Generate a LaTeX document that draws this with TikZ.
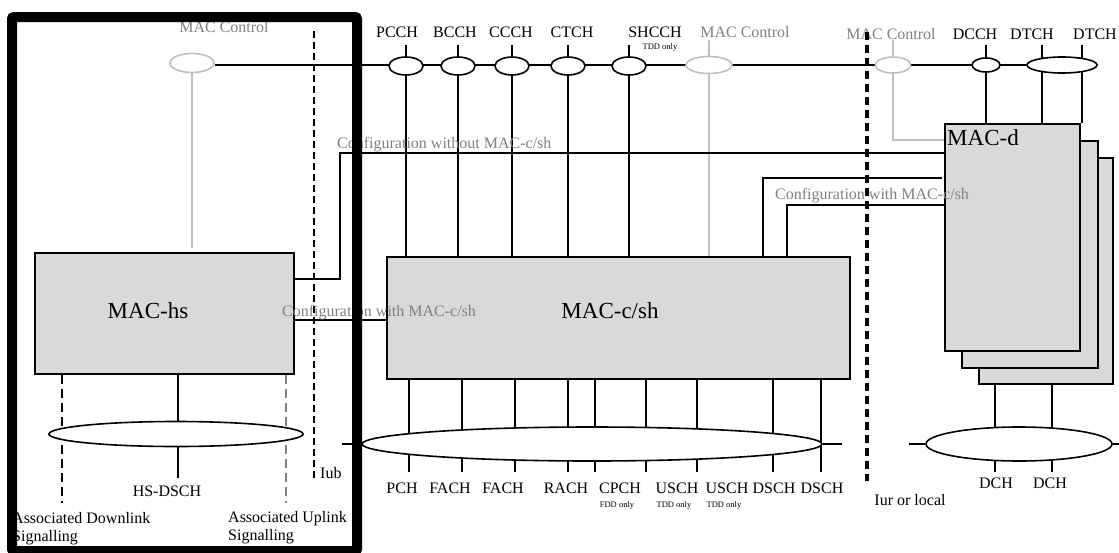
\documentclass[tikz,border=0pt]{standalone}
\usepackage{fontspec}
\setmainfont{Liberation Serif}
\usepackage{xcolor}
\definecolor{boxFill}{HTML}{D9D9D9}
\definecolor{ctrlGray}{HTML}{BFBFBF}
\definecolor{noteGray}{HTML}{808080}
\usepackage{tikz}
\usetikzlibrary{shapes.geometric,backgrounds,calc}

\begin{document}
\begin{tikzpicture}[
  x=1pt, y=-1pt,
  font=\fontsize{16}{18}\selectfont,
  entity/.style={draw,fill=boxFill,line width=1.8pt,inner sep=0pt,anchor=north west},
  bigname/.style={anchor=base,inner sep=0pt,font=\fontsize{23}{25}\selectfont},
  chan/.style={ellipse,draw,fill=white,line width=1.6pt,inner sep=0pt},
  ctrlring/.style={chan,draw=ctrlGray},
  tag/.style={anchor=base,inner sep=0pt},
  note/.style={tag,noteGray},
  subtag/.style={tag,font=\fontsize{8.5}{9}\selectfont},
  wire/.style={line width=1.8pt},
  ctrl/.style={ctrlGray,line width=1.8pt},
  iface/.style={line width=1.3pt,dash pattern=on 7pt off 4pt},
  iurline/.style={line width=4pt,dash pattern=on 8pt off 5pt},
  assoc/.style={line width=1.8pt,dash pattern=on 9pt off 5pt}
]
\useasboundingbox (0,0) rectangle (1119,552);

% entities
\node[entity,minimum width=259pt,minimum height=121pt] (mhs) at (34,252) {};
\node[entity,minimum width=463pt,minimum height=122pt] (csh) at (386,256) {};
\node[entity,minimum width=134pt,minimum height=226pt] (macd3) at (978,157) {};
\node[entity,minimum width=136pt,minimum height=227pt] (macd2) at (961,140) {};
\node[entity,minimum width=135pt,minimum height=227pt] (macd1) at (944,123) {};
\node[bigname] (mhsname) at (148,318) {MAC-hs};
\node[bigname] (cshname) at (610,318) {MAC-c/sh};
\node[bigname,anchor=base west] (macdname) at (947,145) {MAC-d};

% logical channels
\node[note] (hsctltag) at (224,32) {MAC Control};
\node[tag] (pcch) at (397,37) {PCCH};
\node[tag] (bcch) at (455,37) {BCCH};
\node[tag] (ccch) at (511,37) {CCCH};
\node[tag] (ctch) at (572,37) {CTCH};
\node[tag] (shcch) at (655,37) {SHCCH};
\node[subtag] (shcchnote) at (660,49) {TDD only};
\node[note] (cshctltag) at (745,37) {MAC Control};
\node[note] (dctltag) at (891,39) {MAC Control};
\node[tag] (dcch) at (975,39) {DCCH};
\node[tag] (dtcha) at (1032,39) {DTCH};
\node[tag] (dtchb) at (1095,39) {DTCH};

\node[ctrlring,minimum width=44pt,minimum height=19pt] (hsctl) at (192,63) {};
\node[chan,minimum width=34pt,minimum height=18pt] (pcchE) at (406,66) {};
\node[chan,minimum width=34pt,minimum height=18pt] (bcchE) at (458,66) {};
\node[chan,minimum width=34pt,minimum height=18pt] (ccchE) at (512,66) {};
\node[chan,minimum width=34pt,minimum height=18pt] (ctchE) at (568,66) {};
\node[chan,minimum width=34pt,minimum height=18pt] (shcchE) at (629,66) {};
\node[ctrlring,minimum width=46pt,minimum height=17pt] (cshctl) at (709,65) {};
\node[ctrlring,minimum width=35pt,minimum height=16pt] (dctl) at (893,65) {};
\node[chan,minimum width=28pt,minimum height=14pt] (dcchE) at (986,65) {};
\node[chan,minimum width=70pt,minimum height=16pt] (dtchE) at (1062,65) {};

% transport channels
\node[chan,minimum width=254pt,minimum height=25pt] (hsbus) at (176,434) {};
\node[chan,minimum width=460pt,minimum height=34pt] (cshbus) at (592,444) {};
\node[chan,minimum width=186pt,minimum height=34pt] (dbus) at (1019,444) {};

\node[tag] (hsdsch) at (167,496) {HS-DSCH};
\node[tag,anchor=base west,align=left] (assocdl) at (12,541) {Associated Downlink\\Signalling};
\node[tag,anchor=base west,align=left] (assocul) at (228,540) {Associated Uplink\\Signalling};
\node[tag,anchor=base west] (iub) at (320,478) {Iub};
\node[tag] (pch) at (402,493) {PCH};
\node[tag] (facha) at (450,493) {FACH};
\node[tag] (fachb) at (503,493) {FACH};
\node[tag] (rach) at (566,493) {RACH};
\node[tag] (cpch) at (620,493) {CPCH};
\node[tag] (uscha) at (677,493) {USCH};
\node[tag] (uschb) at (727,493) {USCH};
\node[tag] (dscha) at (774,493) {DSCH};
\node[tag] (dschb) at (822,493) {DSCH};
\node[subtag] (cpchnote) at (617,507) {FDD only};
\node[subtag] (uschanote) at (674,507) {TDD only};
\node[subtag] (uschbnote) at (724,507) {TDD only};
\node[tag] (iur) at (910,505) {Iur or local};
\node[tag] (dcha) at (996,488) {DCH};
\node[tag] (dchb) at (1050,488) {DCH};

% configuration labels
\node[note,anchor=base west] (cfgwo) at (337,148) {Configuration without MAC-c/sh};
\node[note,anchor=base west] (cfgl) at (282,316) {Configuration with MAC-c/sh};
\node[note,anchor=base west] (cfgr) at (775,199) {Configuration with MAC-c/sh};

% links
\begin{scope}[on background layer]
  \draw[wire] (hsctl.east |- dtchE.west) -- (dtchE.west);
  \draw[ctrl] (hsctl) -- ($(hsctl |- mhs.north)+(0,-4)$);
  \foreach \e in {pcchE,bcchE,ccchE,ctchE,shcchE}
    \draw[wire] (\e |- 0,45) -- (\e |- csh.north);
  \draw[ctrl] (cshctl |- 0,40) -- (cshctl |- csh.north);
  \draw[ctrl] (dctl |- 0,40) -- (dctl.center) |- (macd1.west |- 0,140);
  \draw[wire] (dcchE |- 0,45) -- (dcchE |- macd1.north);
  \foreach \x in {1042,1082}
    \draw[wire] (\x,45) -- (\x,0 |- macd1.north);
  % configuration paths
  \draw[wire] (mhs.east |- 0,279) -| (340,153) -- (macd1.west |- 0,153);
  \draw[wire] (mhs.east |- 0,320) -- (csh.west |- 0,320);
  \draw[wire] (763,0 |- csh.north) |- (942,178);
  \draw[wire] (787,0 |- csh.north) |- (macd1.west |- 0,205);
  % transport channels
  \draw[wire] (178,0 |- mhs.south) -- (178,478);
  \foreach \x in {409,462,515,568,595,646,697,773,821}
    \draw[wire] (\x,0 |- csh.south) -- (\x,472);
  \draw[wire] (342,444) -- (cshbus.west);
  \draw[wire] (cshbus.east) -- (842,444);
  \foreach \x in {995,1052}
    \draw[wire] (\x,0 |- macd3.south) -- (\x,472);
  \draw[wire] (909,444) -- (dbus.west);
  \draw[wire] (dbus.east) -- (1125,444);
  \draw[assoc] (62,0 |- mhs.south) -- (62,503);
  \draw[assoc,noteGray] (286,0 |- mhs.south) -- (286,503);
\end{scope}

% interfaces
\draw[iface] (314,31) -- (314,481);
\draw[iurline] (867,32) -- (867,481);

% RNC side frame
\draw[line width=10pt,rounded corners=2pt] (12,17) rectangle (357,551);
\end{tikzpicture}
\end{document}
